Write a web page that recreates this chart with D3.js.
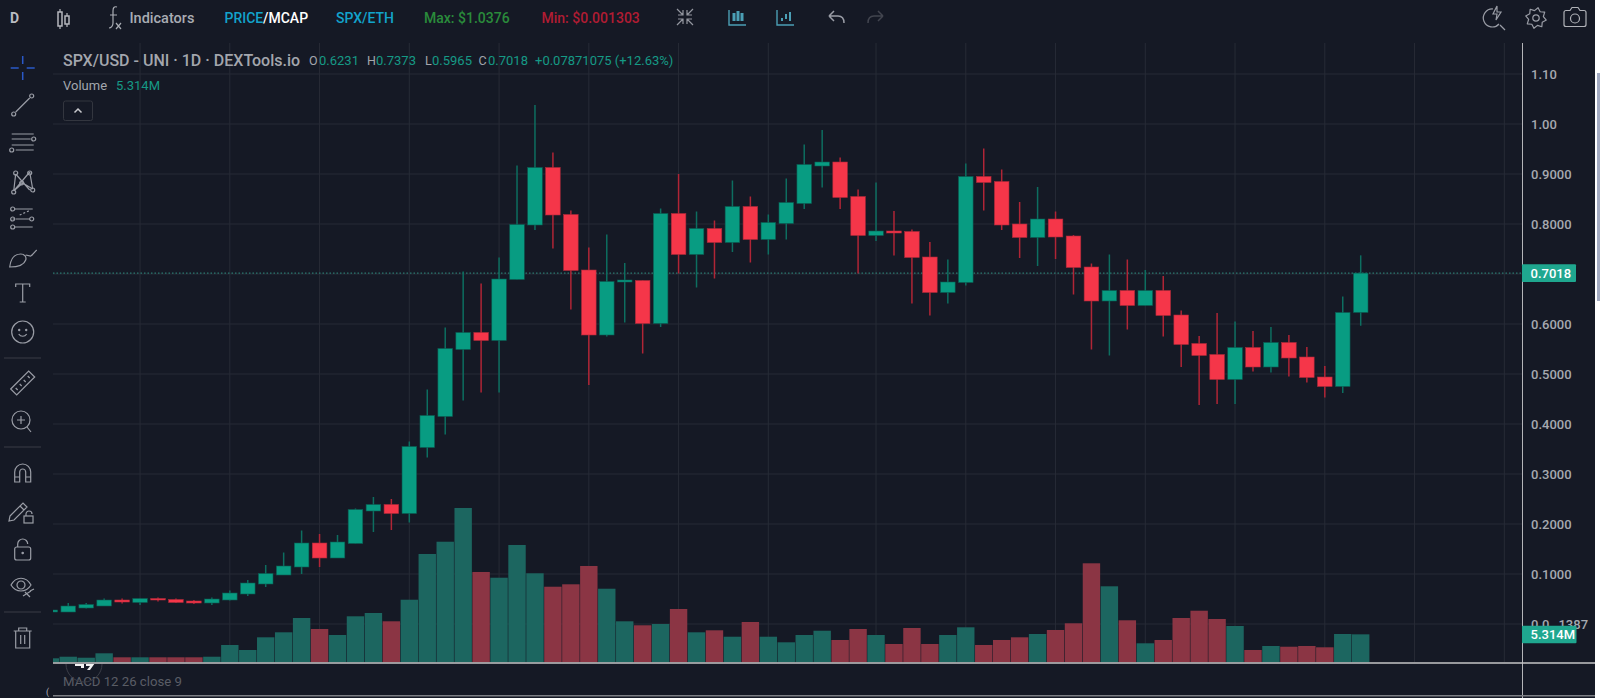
<!DOCTYPE html>
<html>
<head>
<meta charset="utf-8">
<script src="https://cdn.jsdelivr.net/npm/d3@7"></script>
<style>
html, body { margin: 0; padding: 0; background: #fff; overflow: hidden; }
svg { display: block; font-family: Roboto, sans-serif; }
</style>
</head>
<body>
<svg id="chart" width="1600" height="698"></svg>
<script>
// daily candles
var opens = [.024,.024,.032,.036,.048,.043,.051,.049,.046,.042,.048,.060,.080,.098,.114,.162,.132,.161,.226,.239,.221,.353,.415,.549,.583,.567,.689,.798,.913,.819,.708,.578,.684,.687,.601,.821,.739,.791,.763,.835,.769,.801,.841,.916,.924,.855,.777,.786,.785,.734,.663,.683,.895,.885,.800,.773,.810,.776,.714,.646,.667,.637,.667,.618,.561,.539,.489,.553,.514,.563,.534,.494,.475,.6231];
var highs = [.028,.042,.042,.051,.051,.051,.053,.051,.048,.053,.067,.088,.118,.143,.187,.180,.178,.231,.254,.250,.365,.469,.593,.705,.681,.733,.917,1.038,.943,.827,.753,.779,.722,.687,.831,.900,.825,.807,.887,.855,.819,.891,.959,.988,.933,.869,.883,.826,.789,.764,.729,.921,.951,.909,.844,.874,.825,.778,.721,.739,.729,.708,.696,.627,.576,.622,.605,.586,.594,.578,.554,.516,.655,.7373];
var lows = [.024,.024,.031,.036,.041,.038,.045,.042,.040,.038,.047,.056,.074,.098,.100,.114,.132,.161,.184,.188,.203,.333,.379,.447,.463,.463,.689,.788,.751,.629,.478,.575,.603,.541,.594,.701,.673,.691,.744,.723,.739,.769,.830,.873,.830,.701,.766,.737,.641,.617,.641,.677,.827,.788,.732,.716,.730,.659,.549,.537,.589,.637,.575,.514,.438,.440,.440,.505,.503,.495,.483,.453,.462,.5965];
var closes = [.028,.036,.039,.048,.044,.051,.048,.043,.042,.050,.062,.082,.101,.116,.162,.132,.164,.229,.239,.221,.355,.417,.551,.583,.567,.690,.799,.913,.818,.707,.578,.685,.688,.601,.821,.739,.791,.763,.835,.769,.803,.843,.919,.924,.853,.777,.786,.782,.733,.663,.684,.895,.883,.798,.773,.810,.774,.713,.646,.667,.637,.667,.617,.559,.537,.489,.553,.514,.563,.532,.493,.475,.623,.7018];
// volume in millions
var volumes = [.76,1.06,.87,1.71,.95,.95,.95,.95,.95,1.06,3.29,2.34,4.75,5.7,8.42,6.33,5.19,8.74,9.37,7.79,11.89,20.58,22.91,29.32,17.16,16.07,22.29,16.91,14.36,14.82,18.3,13.98,7.79,7.03,7.28,10.13,5.7,6.08,4.86,7.66,4.86,3.8,5.19,6,4.24,6.33,5.19,3.48,6.52,3.48,5.19,6.65,3.29,4.24,4.75,5.38,6.14,7.41,18.81,14.44,7.98,3.61,4.24,8.42,9.8,8.23,6.9,2.34,3.1,2.96,3.1,2.85,5.38,5.314];

var priceTicks = [1.1,1,.9,.8,.7,.6,.5,.4,.3,.2,.1,0];
var priceLabels = ["1.10","1.00","0.9000","0.8000","","0.6000","0.5000","0.4000","0.3000","0.2000","0.1000","0.0"];
var gridDays = [5,10,15,20,25,30,35,40,46,51,56,61,66,71,76,81];
var lastPrice = .7018;
var lastVolume = 5.314;

var bg = "#151925";
var green = "#089c82", greenWick = "#0d6e60";
var red = "#f53649", redWick = "#b02536";
var iconGray = "#9a9da6";

var svg = d3.select("#chart");

var x = d3.scaleLinear().domain([0, 73]).range([50.3, 1360.7]);
var y = d3.scaleLinear().domain([0, 1.1]).range([624, 74]);
var yVol = d3.scaleLinear().domain([0, 30]).range([662.3, 504.4]);
var days = d3.range(opens.length);
var isUp = function(d) { return closes[d] >= opens[d]; };

svg.append("rect").attr("width", 1595).attr("height", 698).attr("fill", bg);

// scrollbar strip on the far right
svg.append("rect").attr("x", 1597).attr("y", 73).attr("width", 3).attr("height", 228).attr("fill", "#a3abc2");

svg.append("defs").append("clipPath").attr("id", "plot")
    .append("rect").attr("x", 53).attr("y", 43).attr("width", 1469).attr("height", 620);
svg.select("defs").append("clipPath").attr("id", "macd")
    .append("rect").attr("x", 53).attr("y", 664).attr("width", 1469).attr("height", 31);

// grid
var grid = svg.append("g").attr("stroke", "#272b36").attr("stroke-width", 1);
grid.selectAll("line.h").data(priceTicks).enter().append("line")
    .attr("class", "h")
    .attr("x1", 53).attr("x2", 1522)
    .attr("y1", function(d) { return y(d); })
    .attr("y2", function(d) { return y(d); });
grid.selectAll("line.v").data(gridDays).enter().append("line")
    .attr("class", "v")
    .attr("x1", function(d) { return x(d); })
    .attr("x2", function(d) { return x(d); })
    .attr("y1", 43).attr("y2", 662);

var plot = svg.append("g").attr("clip-path", "url(#plot)");

// volume bars
plot.selectAll("rect.vol").data(days).enter().append("rect")
    .attr("class", "vol")
    .attr("x", function(d) { return x(d) - 8.7; })
    .attr("width", 17.4)
    .attr("y", function(d) { return yVol(volumes[d]); })
    .attr("height", function(d) { return yVol(0) - yVol(volumes[d]); })
    .attr("fill", function(d) { return isUp(d) ? "#1c6660" : "#8b3544"; });

// last price line
plot.append("line")
    .attr("x1", 53).attr("x2", 1522)
    .attr("y1", y(lastPrice)).attr("y2", y(lastPrice))
    .attr("stroke", "#2f8f82").attr("stroke-width", 1).attr("stroke-dasharray", "1.5 2");

// wicks
plot.selectAll("line.wick").data(days).enter().append("line")
    .attr("class", "wick")
    .attr("x1", function(d) { return x(d); })
    .attr("x2", function(d) { return x(d); })
    .attr("y1", function(d) { return y(highs[d]); })
    .attr("y2", function(d) { return y(lows[d]); })
    .attr("stroke-width", 1.5)
    .attr("stroke", function(d) { return isUp(d) ? greenWick : redWick; });

// bodies
plot.selectAll("rect.body").data(days).enter().append("rect")
    .attr("class", "body")
    .attr("x", function(d) { return x(d) - 7.3; })
    .attr("width", 14.6)
    .attr("y", function(d) { return y(Math.max(opens[d], closes[d])); })
    .attr("height", function(d) { return Math.max(1.5, Math.abs(y(opens[d]) - y(closes[d]))); })
    .attr("fill", function(d) { return isUp(d) ? green : red; })
    .attr("stroke", function(d) { return isUp(d) ? "#0b5a50" : "#a82a3a"; })
    .attr("stroke-width", .6);

// panel lines
svg.append("line").attr("x1", 1522.5).attr("x2", 1522.5).attr("y1", 43).attr("y2", 698).attr("stroke", "#b4b5b9").attr("stroke-width", 1);
svg.append("line").attr("x1", 53).attr("x2", 1595).attr("y1", 663).attr("y2", 663).attr("stroke", "#c4c4c6").attr("stroke-width", 1.6);
svg.append("line").attr("x1", 53).attr("x2", 1595).attr("y1", 695.7).attr("y2", 695.7).attr("stroke", "#7c7e84").attr("stroke-width", 1.4);

// price axis
var axis = d3.axisRight(y).tickValues(priceTicks).tickSize(0).tickPadding(0)
    .tickFormat(function(d, i) { return priceLabels[i]; });
var axisG = svg.append("g").attr("transform", "translate(1531,0)").call(axis);
axisG.select(".domain").remove();
axisG.selectAll("text").attr("font-family", "Roboto, sans-serif").attr("font-size", 13)
    .attr("font-weight", 500).attr("fill", "#a6a9b0");
// the zero tick has the small subscript form of the lowest price
var zeroTick = axisG.selectAll("text").filter(function(d) { return d === 0; });
zeroTick.append("tspan").attr("font-size", 8).attr("dy", 3).text("15");
zeroTick.append("tspan").attr("font-size", 13).attr("dy", -3).text("1387");

var tag = function(val, yPos, width) {
    svg.append("rect").attr("x", 1522).attr("y", yPos - 8.8).attr("width", width).attr("height", 17.6).attr("rx", 1).attr("fill", "#1fa78f");
    svg.append("text").attr("x", 1530.5).attr("y", yPos + 4.6).attr("font-size", 13).attr("font-weight", 500).attr("fill", "#fff").text(val);
};
tag(lastPrice.toFixed(4), y(lastPrice), 54);
tag(lastVolume + "M", 634.5, 54.5);

// texts
var txt = function(s, xPos, yPos, size, color, weight) {
    return svg.append("text").attr("x", xPos).attr("y", yPos).attr("font-size", size)
        .attr("fill", color).attr("font-weight", weight || 400).text(s);
};
var teal = "#159a85", labelGray = "#a3a6ad";

txt("D", 10, 23, 14, "#b9bbc1", 700);
txt("Indicators", 129.5, 23, 14.5, "#a9acb3", 500);
txt("PRICE", 224.5, 23, 14, "#12a3cc", 500);
txt("/MCAP", 263, 23, 14, "#ffffff", 500);
txt("SPX/ETH", 336, 23, 14, "#12a3cc", 500);
txt("Max: $1.0376", 424, 23, 14, "#2a8b3b", 500);
txt("Min: $0.001303", 541.5, 23, 14, "#b01c33", 500);

txt("SPX/USD - UNI \u00b7 1D \u00b7 DEXTools.io", 63, 66, 16, labelGray, 500);
txt("O", 309, 65, 12.5, labelGray);
txt("0.6231", 319, 65, 13, teal);
txt("H", 367, 65, 12.5, labelGray);
txt("0.7373", 376, 65, 13, teal);
txt("L", 425, 65, 12.5, labelGray);
txt("0.5965", 432, 65, 13, teal);
txt("C", 478.5, 65, 12.5, labelGray);
txt("0.7018", 488, 65, 13, teal);
txt("+0.07871075 (+12.63%)", 535, 65, 13, teal);
txt("Volume", 63, 90, 13, labelGray);
txt(lastVolume + "M", 116, 90, 13, teal);
txt("MACD 12 26 close 9", 63, 686, 13.2, "#5a5d66");

// collapse button
svg.append("rect").attr("x", 63.5).attr("y", 101).attr("width", 29).attr("height", 19.5).attr("rx", 2)
    .attr("fill", "none").attr("stroke", "#33363f");
svg.append("path").attr("d", "M74.500 112.500l3.500-3.500 3.500 3.500").attr("fill", "none").attr("stroke", "#c8c9cd").attr("stroke-width", 1.5);

// tradingview mark behind the macd pane
var logo = svg.append("g").attr("clip-path", "url(#macd)");
logo.append("circle").attr("cx", 84).attr("cy", 664).attr("r", 18).attr("fill", "none").attr("stroke", "#3a3d47").attr("stroke-width", 1);
logo.append("path").attr("d", "M75 663h9v5h-3v-2h-6zM86 663h9l-5 7h-3l3-4h-4z").attr("fill", "#f2f2f2");
txt("(", 46, 695, 9, "#b0b2b8");

// toolbar icons
var icon = function(xPos, yPos, color) {
    return svg.append("g").attr("transform", "translate(" + xPos + "," + yPos + ")")
        .attr("fill", "none").attr("stroke", color || iconGray).attr("stroke-width", 1.2);
};
var dot = function(g, cx, cy, r) {
    g.append("circle").attr("cx", cx).attr("cy", cy).attr("r", r || 2);
};
var gi;

// top bar
gi = icon(64, 18, "#b5b7bd");
gi.append("path").attr("d", "M-4-9v3M-4 8v3M3-5v3M3 6v3");
gi.append("rect").attr("x", -6).attr("y", -6).attr("width", 4).attr("height", 14).attr("stroke-width", 1.5);
gi.append("rect").attr("x", 1).attr("y", -2).attr("width", 4).attr("height", 8).attr("stroke-width", 1.5);
gi = icon(113, 18, "#a9acb3");
gi.append("path").attr("d", "M4-11c-3-1-4 1-4 4v12c0 3-2 5-4 5M-3-3h7M3 5l5 6M8 5l-5 6");

gi = icon(685, 17, "#93969f");
gi.append("path").attr("d", "M-8-8l6 6M-2-7v5h-5M8-8l-6 6M2-7v5h5M-8 8l6-6M-2 7v-5h-5M8 8l-6-6M2 7v-5h5");
gi = icon(738, 17, "#4b9fb5");
gi.append("path").attr("d", "M-9-7V8H8").attr("stroke-width", 1.4);
gi.append("path").attr("d", "M-4-4v8M0-6v10M4-4v8").attr("stroke-width", 3);
gi = icon(786, 17, "#4b9fb5");
gi.append("path").attr("d", "M-9-7V8H8").attr("stroke-width", 1.4);
gi.append("path").attr("d", "M-4 1v3M0-3v5M4-5v9").attr("stroke-width", 2);
gi = icon(836, 17, "#9a9da6");
gi.append("path").attr("d", "M-7-1h9c4 0 6 3 6 7M-7-1l5-5M-7-1l5 5").attr("stroke-width", 1.5);
gi = icon(876, 17, "#42454f");
gi.append("path").attr("d", "M7-1h-9c-4 0-6 3-6 7M7-1l-5-5M7-1l-5 5").attr("stroke-width", 1.5);

gi = icon(1494, 17);
gi.append("path").attr("d", "M5 7a9 9 0 1 1-6-15");
gi.append("path").attr("d", "M6 8l5 5");
gi.append("path").attr("d", "M3-11l-4 8h4l-1 6 5-8h-4z");
gi = icon(1536, 18);
gi.append("circle").attr("r", 3.2);
gi.append("path").attr("d", d3.range(16).map(function(i) {
    var a = i * Math.PI / 8 + Math.PI / 16, r = i % 2 ? 7.5 : 10.5;
    return (i ? "L" : "M") + (r * Math.cos(a)).toFixed(2) + " " + (r * Math.sin(a)).toFixed(2);
}).join("") + "Z").attr("stroke-linejoin", "round");
gi = icon(1575, 18, "#b0b2b8");
gi.append("path").attr("d", "M-9-7h4l2-3h6l2 3h4a2 2 0 0 1 2 2v12a2 2 0 0 1-2 2h-18a2 2 0 0 1-2-2v-12a2 2 0 0 1 2-2z").attr("transform", "translate(0,-.5)");
gi.append("circle").attr("r", 4.500).attr("cy", .5);

// left bar
gi = icon(22.7, 68, "#2a59c8");
gi.attr("stroke-width", 1.5);
gi.append("path").attr("d", "M-12 0h8M4 0h8M0-12v8M0 4v8");

gi = icon(22.7, 105);
gi.append("path").attr("d", "M-7 7L7-7");
dot(gi, -9, 9); dot(gi, 9, -9);

gi = icon(22.7, 142);
gi.append("path").attr("d", "M-11-8H11M-11-3H8M-11 3H11M-7 8H11");
dot(gi, 11, -3); dot(gi, -11, 8);

gi = icon(22.7, 182);
gi.append("path").attr("d", "M-7-8L-9 9M-7-8L7 8M7-10L-9 9M7-10L10 7M-9 9L0 1M10 7L0 1");
dot(gi, -7, -9); dot(gi, 7, -9); dot(gi, -9, 10); dot(gi, 10, 8); dot(gi, -1, 1);

gi = icon(22.7, 218);
gi.append("path").attr("d", "M-8-9H10M-8 1H-10M-7 1H7M-8 9H10");
gi.append("path").attr("d", "M-3-3L8-8").attr("stroke-dasharray", "2 2");
dot(gi, -10, -9); dot(gi, -10, 1); dot(gi, 9, 1); dot(gi, -10, 9);

gi = icon(22.7, 257);
gi.append("path").attr("d", "M-13 10c1-8 5-13 11-13c4 0 6 3 5 6c-2 6-10 7-16 7zM3-2l5 1c2-1 4-4 6-6");

gi = icon(22.7, 293);
gi.append("path").attr("d", "M-7-6v-3H7v3M0-9V9M-3 9H3");

gi = icon(22.7, 332);
gi.append("circle").attr("r", 11);
gi.append("path").attr("d", "M-4 2c2 3 6 3 8 0");
dot(gi, -3.500, -2, .6); dot(gi, 3.500, -2, .6);

gi = icon(22.7, 383);
gi.append("path").attr("d", "M-12 6L6-12L12-6L-6 12z");
gi.append("path").attr("d", "M-7 5l2 2M-3 1l2 2M1-3l2 2M5-7l2 2");

gi = icon(21, 420);
gi.append("circle").attr("r", 9);
gi.append("path").attr("d", "M-4 0h8M0-4v8M6 7l4 5");

gi = icon(22.7, 473);
gi.append("path").attr("d", "M-8 9V-1a8 8 0 0 1 16 0V9H3V-1a3 3 0 0 0-6 0V9zM-8 4h5M3 4h5");

gi = icon(20, 510);
gi.append("path").attr("d", "M-10 6l13-13 4 4-13 13-5 1zM0-4l4 4");
gi.append("rect").attr("x", 4).attr("y", 6).attr("width", 9).attr("height", 7);
gi.append("path").attr("d", "M6 6V4a3 3 0 0 1 6 0");

gi = icon(22.7, 550);
gi.append("rect").attr("x", -8).attr("y", -3).attr("width", 16).attr("height", 13).attr("rx", 2);
gi.append("path").attr("d", "M-5-3v-3a5 5 0 0 1 10 0");
dot(gi, 0, 3, .7);

gi = icon(21, 585);
gi.append("path").attr("d", "M-10 0c5-9 15-9 20 0c-5 8-15 8-20 0z");
gi.append("circle").attr("r", 4);
gi.append("path").attr("d", "M2 11l8-5M4 7l5 5M9 6l4-2");

gi = icon(22.7, 638);
gi.append("path").attr("d", "M-9-7H9M-4-7v-3h8v3M-7-7V10h14V-7M-2-3V6M2-3V6");

// toolbar dividers
svg.selectAll("line.div").data([358, 447, 612]).enter().append("line")
    .attr("class", "div")
    .attr("x1", 4).attr("x2", 41)
    .attr("y1", function(d) { return d; })
    .attr("y2", function(d) { return d; })
    .attr("stroke", "#3a3d47");
</script>
</body>
</html>
